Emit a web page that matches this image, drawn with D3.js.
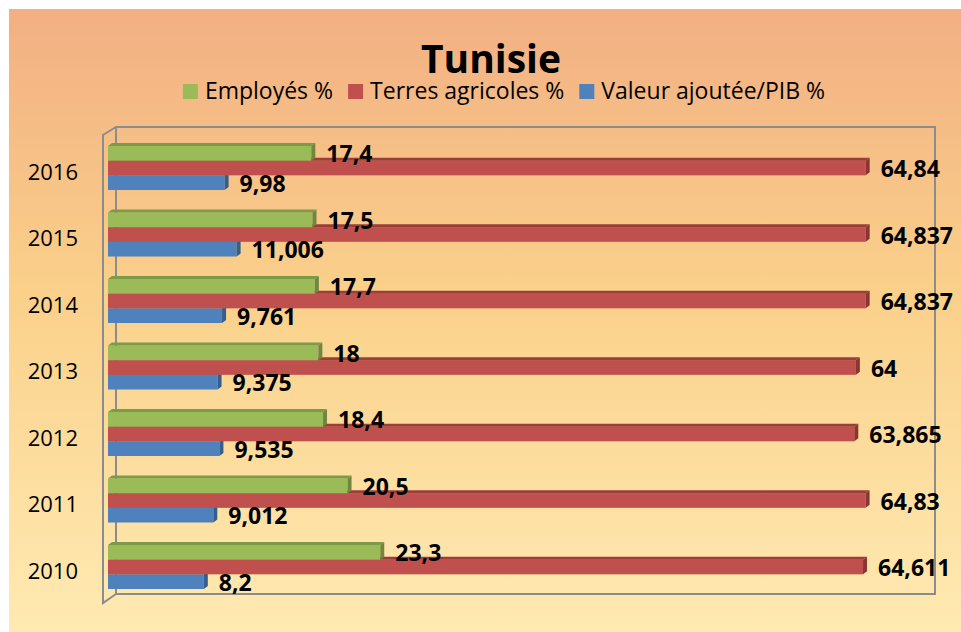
<!DOCTYPE html>
<html>
<head>
<meta charset="utf-8">
<script src="https://cdn.jsdelivr.net/npm/d3@7"></script>
<style>
  body { margin: 0; background: #fff; }
  text { font-family: "Open Sans", sans-serif; }
</style>
</head>
<body>
<script>
// données
var years = ["2016", "2015", "2014", "2013", "2012", "2011", "2010"];
var employes = [17.4, 17.5, 17.7, 18, 18.4, 20.5, 23.3];
var terres = [64.84, 64.837, 64.837, 64, 63.865, 64.83, 64.611];
var valeur = [9.98, 11.006, 9.761, 9.375, 9.535, 9.012, 8.2];
var seriesNames = ["Employés %", "Terres agricoles %", "Valeur ajoutée/PIB %"];
var labelsEmp = ["17,4", "17,5", "17,7", "18", "18,4", "20,5", "23,3"];
var labelsTerres = ["64,84", "64,837", "64,837", "64", "63,865", "64,83", "64,611"];
var labelsVal = ["9,98", "11,006", "9,761", "9,375", "9,535", "9,012", "8,2"];

var width = 961, height = 632;

var svg = d3.select("body").append("svg").attr("width", width).attr("height", height);

// fond dégradé
var defs = svg.append("defs");
var grad = defs.append("linearGradient").attr("id", "bg").attr("x1", 0).attr("y1", 0).attr("x2", 0).attr("y2", 1);
grad.append("stop").attr("offset", "0%").attr("stop-color", "#F2AF83");
grad.append("stop").attr("offset", "45%").attr("stop-color", "#FAD08A");
grad.append("stop").attr("offset", "100%").attr("stop-color", "#FFEAB2");
svg.append("rect").attr("x", 9).attr("y", 9).attr("width", width - 9).attr("height", height - 9)
    .attr("fill", "url(#bg)");

// échelles
var x = d3.scaleLinear().domain([0, 70]).range([108, 926]);
var y = d3.scaleBand().domain(years).range([134.75, 600.25]).paddingInner(0.338).paddingOuter(0.169);
var ySub = d3.scaleBand().domain([0, 1, 2]).range([0, y.bandwidth()]);

// boîte 3D
var box = { left: 116, right: 935, top: 127, bottom: 594, dx: 13, dy: 8 };
var frame = svg.append("g").attr("stroke", "#8C8C8C").attr("stroke-width", 2).attr("fill", "none");
frame.append("rect").attr("x", box.left).attr("y", box.top)
    .attr("width", box.right - box.left).attr("height", box.bottom - box.top);
frame.append("path").attr("d",
    "M" + box.left + "," + box.top + "L" + (box.left - box.dx) + "," + (box.top + box.dy) +
    "L" + (box.left - box.dx) + "," + (box.bottom + box.dy + 1) + "L" + box.left + "," + box.bottom);

// séries (dessinées du bas vers le haut pour l'effet 3D)
var series = [
    { idx: 0, values: employes, labels: labelsEmp, front: "#9BBB59", top: "#7E9A46", side: "#6F883D" },
    { idx: 1, values: terres, labels: labelsTerres, front: "#C0504D", top: "#9D3D3A", side: "#8B3532" },
    { idx: 2, values: valeur, labels: labelsVal, front: "#4F81BD", top: "#3F6A9E", side: "#375D8B" }
];
var ddx = 4, ddy = -3;

var bars = svg.append("g");
series.slice().reverse().forEach(function (s) {
    var rows = years.map(function (yr, i) {
        return { year: yr, v: s.values[i], label: s.labels[i] };
    });
    var g = bars.append("g").selectAll("g").data(rows).enter().append("g");
    function y0(d) { return y(d.year) + ySub(s.idx); }
    var h = ySub.bandwidth();
    g.append("rect")
        .attr("x", x(0)).attr("y", function (d) { return y0(d); })
        .attr("width", function (d) { return x(d.v) - x(0); }).attr("height", h)
        .attr("fill", s.front);
    g.append("path").attr("fill", s.top).attr("d", function (d) {
        var a = x(0), b = x(d.v), t = y0(d);
        return "M" + a + "," + t + "L" + (a + ddx) + "," + (t + ddy) + "L" + (b + ddx) + "," + (t + ddy) + "L" + b + "," + t + "Z";
    });
    g.append("path").attr("fill", s.side).attr("d", function (d) {
        var b = x(d.v), t = y0(d);
        return "M" + b + "," + t + "L" + (b + ddx) + "," + (t + ddy) + "L" + (b + ddx) + "," + (t + h + ddy) + "L" + b + "," + (t + h) + "Z";
    });
    s.rows = rows;
});

// étiquettes de valeurs
series.forEach(function (s) {
    svg.append("g").selectAll("text").data(s.rows).enter().append("text")
        .attr("x", function (d) { return x(d.v) + ddx + 11; })
        .attr("y", function (d) { return y(d.year) + ySub(s.idx) + ySub.bandwidth() / 2 + 3; })
        .attr("dominant-baseline", "middle")
        .attr("font-size", 23).attr("font-weight", "bold").attr("fill", "#000")
        .text(function (d) { return d.label; });
});

// axe des catégories
svg.append("g").selectAll("text").data(years).enter().append("text")
    .attr("x", 78).attr("y", function (d) { return y(d) + y.bandwidth() / 2 + 6; })
    .attr("text-anchor", "end").attr("dominant-baseline", "middle")
    .attr("font-size", 22).attr("fill", "#000")
    .text(function (d) { return d; });

// titre
svg.append("text").attr("x", 491).attr("y", 73).attr("text-anchor", "middle")
    .attr("font-size", 39).attr("font-weight", "bold").attr("fill", "#000").text("Tunisie");

// légende
var legColors = ["#9BBB59", "#C0504D", "#4F81BD"];
var legend = svg.append("g");
var items = legend.selectAll("g").data(seriesNames).enter().append("g");
items.append("rect").attr("width", 15).attr("height", 15).attr("y", 84)
    .attr("fill", function (d, i) { return legColors[i]; });
items.append("text").attr("x", 22).attr("y", 99).attr("font-size", 23).attr("fill", "#000")
    .text(function (d) { return d; });
var pos = 0, offsets = [];
items.each(function () {
    var w = d3.select(this).select("text").node().getComputedTextLength();
    offsets.push(pos);
    pos += 22 + w + 15;
});
var total = pos - 15;
var start = 504 - total / 2;
items.attr("transform", function (d, i) { return "translate(" + (start + offsets[i]) + ",0)"; });
</script>
</body>
</html>
